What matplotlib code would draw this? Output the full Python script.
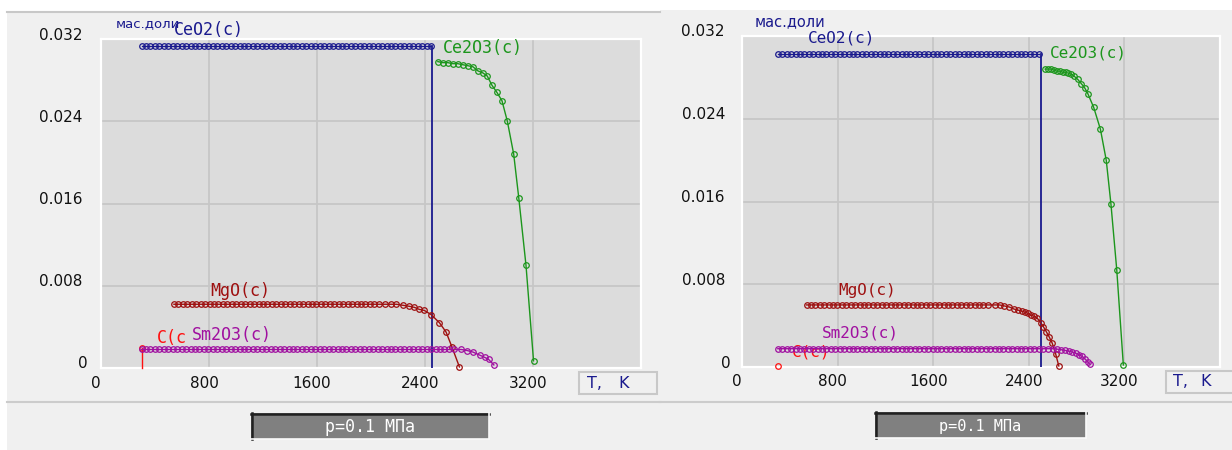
import matplotlib
matplotlib.use("Agg")
import matplotlib.pyplot as plt
import matplotlib.transforms as mtransforms
from matplotlib.patches import Rectangle
from matplotlib.lines import Line2D

# ------------------------------------------------------------------ data
X_TICKS = [0, 800, 1600, 2400, 3200]
X_TICK_LABELS = ["0", "800", "1600", "2400", "3200"]
Y_TICKS = [0, 0.008, 0.016, 0.024, 0.032]
Y_TICK_LABELS = ["0", "0.008", "0.016", "0.024", "0.032"]
Y_UNIT = "мас.доли"
PRESSURE = "p=0.1 МПа"

# ---- left panel
L_CEO2_FLAT = (300, 2450, 0.0313)          # start T, end T, value
L_CEO2_DROP_T = 2450
L_CE2O3_T = [2495, 2532, 2569, 2606, 2643, 2680, 2718, 2755, 2792, 2829,
             2861, 2896, 2933, 2970, 3010, 3057, 3095, 3148, 3204]
L_CE2O3_V = [0.0298, 0.0297, 0.0297, 0.0296, 0.0296, 0.0295, 0.0294, 0.0293,
             0.0289, 0.0287, 0.0284, 0.0275, 0.0268, 0.0260, 0.0240, 0.0208,
             0.0165, 0.0100, 0.0007]
L_MGO_FLAT = (540, 2070, 0.0062)
L_MGO_T = [2102, 2151, 2188, 2236, 2284, 2321, 2358, 2395, 2445, 2507,
           2556, 2601, 2655]
L_MGO_V = [0.0062, 0.0062, 0.0062, 0.0061, 0.0060, 0.0059, 0.0057, 0.0056,
           0.0052, 0.0044, 0.0035, 0.0020, 0.0001]
L_SM2O3_FLAT = (300, 2590, 0.0018)
L_SM2O3_T = [2618, 2668, 2712, 2755, 2804, 2841, 2871, 2910]
L_SM2O3_V = [0.0018, 0.0018, 0.0017, 0.00155, 0.00126, 0.00104, 0.00084, 0.0003]
L_C_T = [300, 300]
L_C_V = [0.0019, 0.0]

# ---- right panel
R_CEO2_FLAT = (300, 2500, 0.0303)
R_CEO2_DROP_T = 2500
R_CE2O3_T = [2537, 2562, 2586, 2611, 2635, 2659, 2683, 2708, 2732, 2757,
             2781, 2810, 2839, 2867, 2895, 2943, 2999, 3048, 3087, 3136, 3191]
R_CE2O3_V = [0.0288, 0.0288, 0.0288, 0.0287, 0.0286, 0.0286, 0.0285, 0.0285,
             0.0284, 0.0283, 0.0281, 0.0278, 0.0274, 0.0270, 0.0264, 0.0251,
             0.0230, 0.0200, 0.0158, 0.0094, 0.0002]
R_MGO_FLAT = (540, 2080, 0.0060)
R_MGO_T = [2114, 2155, 2196, 2237, 2277, 2310, 2342, 2367, 2391, 2419,
           2446, 2472, 2498, 2522, 2547, 2571, 2596, 2624, 2651]
R_MGO_V = [0.0060, 0.0060, 0.0059, 0.0058, 0.0056, 0.0055, 0.0054, 0.0053,
           0.0052, 0.0050, 0.0049, 0.0047, 0.0043, 0.0039, 0.0034, 0.0029,
           0.0023, 0.0013, 0.0001]
R_SM2O3_FLAT = (300, 2570, 0.00177)
R_SM2O3_T = [2603, 2635, 2667, 2700, 2733, 2762, 2791, 2818, 2846, 2870, 2895, 2908]
R_SM2O3_V = [0.00177, 0.00173, 0.00168, 0.00161, 0.00154, 0.00145, 0.00135,
             0.00120, 0.00103, 0.00078, 0.00048, 0.00030]
R_C_T = [300]
R_C_V = [0.00005]

# ------------------------------------------------------------------ style
W, H, DPI = 1232, 450, 100
PANEL_BG = "#f0f0f0"
PLOT_BG = "#dcdcdc"
GRID_C = "#c6c6c6"
COL = {"CeO2(c)": "#1a1a8e", "Ce2O3(c)": "#1c961c", "MgO(c)": "#9e1010",
       "Sm2O3(c)": "#a010a0", "C(c)": "#ff1010", "C(c": "#ff1010"}
TICK_FONT = dict(family=["DejaVu Sans"], size=11)
MONO = ["DejaVu Sans Mono", "DejaVu Sans"]

fig = plt.figure(figsize=(W / DPI, H / DPI), dpi=DPI)
fig.patch.set_facecolor("white")


def fx(x):
    return x / W


def fy(y):
    return 1 - y / H


def prect(x0, y0, x1, y1, **kw):
    fig.patches.append(Rectangle((fx(x0), fy(y1)), fx(x1) - fx(x0), fy(y0) - fy(y1),
                                 transform=fig.transFigure, **kw))


def pline(x0, y0, x1, y1, color, lw, z=7):
    fig.lines.append(Line2D([fx(x0), fx(x1)], [fy(y0), fy(y1)],
                            transform=fig.transFigure, color=color, lw=lw, zorder=z))


# panel backgrounds
prect(7, 12, 660, 450, facecolor=PANEL_BG, edgecolor="none", zorder=-10)
prect(660, 10, 1232, 450, facecolor=PANEL_BG, edgecolor="none", zorder=-10)
pline(7, 12, 660, 12, "#c8c8c8", 1.5)
pline(7, 402, 660, 402, "#cccccc", 1.5)
pline(660, 402, 1232, 402, "#cccccc", 1.5)


def flat_series(flat, t_tail, v_tail, step):
    t0, t1, v = flat
    ts = list(range(t0, t1 + 1, step))
    return ts + list(t_tail), [v] * len(ts) + list(v_tail)


def make_axes(rect_px, step, d, txt, fs_lab, fs_unit, ygap):
    x0, y0, x1, y1 = rect_px
    ax = fig.add_axes([fx(x0), fy(y1), fx(x1) - fx(x0), fy(y0) - fy(y1)])
    ax.set_facecolor(PLOT_BG)
    ax.set_xlim(0, 4000)
    ax.set_ylim(0, 0.032)
    ax.set_xticks(X_TICKS)
    ax.set_yticks(Y_TICKS)
    ax.set_xticklabels([])
    ax.set_yticklabels([])
    ax.tick_params(length=0)
    ax.grid(True, color=GRID_C, lw=1.3)
    ax.set_axisbelow(True)
    for s in ax.spines.values():
        s.set_color("white")
        s.set_linewidth(1.6)

    mk = dict(marker="o", markersize=4.0, markerfacecolor="none",
              markeredgewidth=0.9, lw=1.0, clip_on=False, zorder=3)
    # CeO2
    t, v = flat_series(d["ceo2_flat"], [], [], step)
    ax.plot(t, v, color=COL["CeO2(c)"], **mk)
    ax.plot([d["ceo2_drop"], d["ceo2_drop"]], [v[-1], 0], color=COL["CeO2(c)"],
            lw=1.3, zorder=3)
    # Ce2O3
    ax.plot(d["ce2o3_t"], d["ce2o3_v"], color=COL["Ce2O3(c)"], **mk)
    # MgO
    t, v = flat_series(d["mgo_flat"], d["mgo_t"], d["mgo_v"], step)
    ax.plot(t, v, color=COL["MgO(c)"], **mk)
    # C
    ax.plot(d["c_t"], d["c_v"], color=COL["C(c)"], markevery=[0], **mk)
    # Sm2O3
    t, v = flat_series(d["sm_flat"], d["sm_t"], d["sm_v"], step)
    ax.plot(t, v, color=COL["Sm2O3(c)"], **mk)

    # tick labels
    off_y = mtransforms.ScaledTranslation(-ygap / DPI, 4 / DPI, fig.dpi_scale_trans)
    ytr = mtransforms.blended_transform_factory(ax.transAxes, ax.transData) + off_y
    for val, lab in zip(Y_TICKS, Y_TICK_LABELS):
        extra = mtransforms.ScaledTranslation((6 if lab == "0" else 0) / DPI, 0,
                                              fig.dpi_scale_trans)
        ax.text(0, val, lab, transform=ytr + extra, ha="right", va="center",
                color="#111111", **TICK_FONT)
    off_x = mtransforms.ScaledTranslation(-5 / DPI, -15 / DPI, fig.dpi_scale_trans)
    xtr = mtransforms.blended_transform_factory(ax.transData, ax.transAxes) + off_x
    for val, lab in zip(X_TICKS, X_TICK_LABELS):
        ax.text(val, 0, lab, transform=xtr, ha="center", va="center",
                color="#111111", **TICK_FONT)

    # series labels / unit (pixel positions)
    for (s, xp, yp, z) in txt:
        if s == "unit":
            ax.text(fx(xp), fy(yp), Y_UNIT, transform=fig.transFigure, ha="left",
                    va="center", color=COL["CeO2(c)"], fontsize=fs_unit,
                    family=["DejaVu Sans"], zorder=z)
        else:
            ax.text(fx(xp), fy(yp), s, transform=fig.transFigure, ha="left",
                    va="center", color=COL[s], fontsize=fs_lab, family=MONO,
                    zorder=z)
    return ax


left_d = dict(ceo2_flat=L_CEO2_FLAT, ceo2_drop=L_CEO2_DROP_T,
              ce2o3_t=L_CE2O3_T, ce2o3_v=L_CE2O3_V,
              mgo_flat=L_MGO_FLAT, mgo_t=L_MGO_T, mgo_v=L_MGO_V,
              sm_flat=L_SM2O3_FLAT, sm_t=L_SM2O3_T, sm_v=L_SM2O3_V,
              c_t=L_C_T, c_v=L_C_V)
right_d = dict(ceo2_flat=R_CEO2_FLAT, ceo2_drop=R_CEO2_DROP_T,
               ce2o3_t=R_CE2O3_T, ce2o3_v=R_CE2O3_V,
               mgo_flat=R_MGO_FLAT, mgo_t=R_MGO_T, mgo_v=R_MGO_V,
               sm_flat=R_SM2O3_FLAT, sm_t=R_SM2O3_T, sm_v=R_SM2O3_V,
               c_t=R_C_T, c_v=R_C_V)

left_txt = [("unit", 116, 24, 5), ("CeO2(c)", 174, 30, 5), ("Ce2O3(c)", 443, 48, 5),
            ("MgO(c)", 210, 291, 5), ("C(c", 157, 338, 5), ("Sm2O3(c)", 192, 335, 5)]
right_txt = [("unit", 755, 22, 5), ("CeO2(c)", 808, 38, 5), ("Ce2O3(c)", 1050, 53, 5),
             ("MgO(c)", 838, 290, 5), ("C(c)", 792, 352, 1), ("Sm2O3(c)", 822, 333, 5)]

axL = make_axes((101, 39, 641, 368), 33, left_d, left_txt, 12, 9.5, 19)
axR = make_axes((742, 36, 1220, 367), 37, right_d, right_txt, 11.5, 10.5, 17)

# T, K boxes
for (bx0, by0, bx1, by1, tx, kx) in [(579, 372, 657, 394, 587, 618),
                                      (1166, 371, 1240, 393, 1173, 1200)]:
    prect(bx0, by0, bx1, by1, facecolor=PANEL_BG, edgecolor="#c8c8c8", lw=1.5, zorder=5)
    fig.text(fx(tx), fy((by0 + by1) / 2), "T,", ha="left", va="center",
             color="#1a1a8e", fontsize=11.5, family="DejaVu Sans", zorder=6)
    fig.text(fx(kx), fy((by0 + by1) / 2), "K", ha="left", va="center",
             color="#1a1a8e", fontsize=11.5, family="DejaVu Sans", zorder=6)

# pressure boxes
for (bx0, by0, bx1, by1, fs) in [(251, 413, 489, 439, 12), (875, 412, 1086, 438, 11)]:
    prect(bx0, by0, bx1, by1, facecolor="#808080", edgecolor="none", zorder=5)
    pline(bx0, by0 + 0.7, bx1, by0 + 0.7, "#202020", 1.8)
    pline(bx0 + 0.7, by0, bx0 + 0.7, by1, "#202020", 1.8)
    pline(bx0, by1, bx1, by1, "#fafafa", 1.2)
    pline(bx1, by0, bx1, by1, "#fafafa", 1.2)
    fig.text(fx((bx0 + bx1) / 2), fy((by0 + by1) / 2 + 1), PRESSURE, ha="center",
             va="center", color="white", fontsize=fs, family=MONO, zorder=8)

fig.savefig("out.png", dpi=DPI, facecolor=fig.get_facecolor())
